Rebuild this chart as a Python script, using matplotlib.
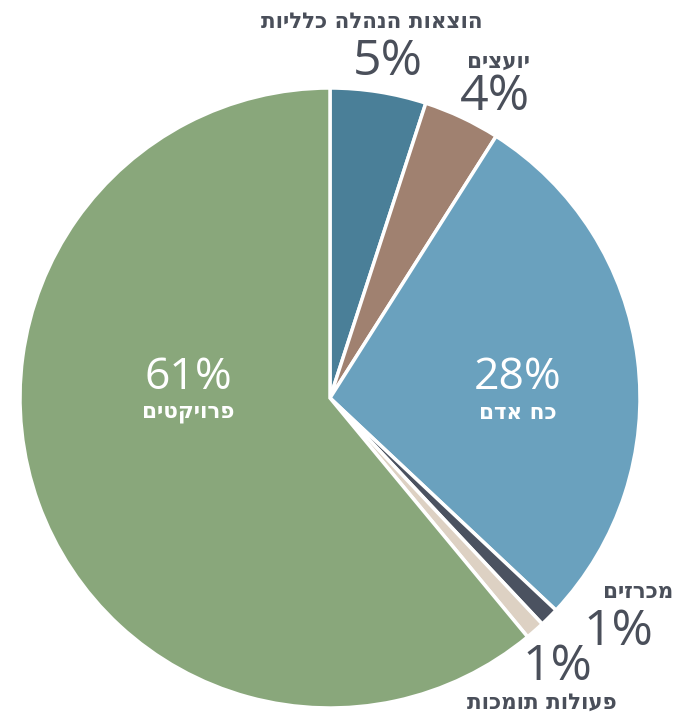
import matplotlib
matplotlib.use("Agg")
import matplotlib.pyplot as plt

labels = ["הוצאות הנהלה כלליות", "יועצים", "כח אדם", "מכרזים", "פעולות תומכות", "פרויקטים"]
values = [5, 4, 28, 1, 1, 61]
pct_text = ["5%", "4%", "28%", "1%", "1%", "61%"]
colors = ["#4a7f98", "#a08170", "#6aa1be", "#4b5260", "#ddd1c3", "#89a77b"]

# where the labels sit (data coords, pie radius = 1)
pct_pos = [(0.187, 1.084), (0.532, 0.971), (0.606, 0.065), (0.929, -0.755), (0.735, -0.868), (-0.458, 0.065)]
name_pos = [(0.135, 1.213), (0.542, 1.084), (0.606, -0.048), (0.994, -0.626), (0.684, -0.984), (-0.458, -0.048)]
inside = [False, False, True, False, False, True]


def rtl(s):
    # matplotlib has no bidi support, so flip Hebrew for display
    return s[::-1]


fig = plt.figure(figsize=(6.79, 7.15), dpi=100)
ax = fig.add_axes([20 / 679, 7 / 715, 620 / 679, 620 / 715])
ax.pie(values, colors=colors, startangle=90, counterclock=False, radius=1,
       wedgeprops=dict(edgecolor="white", linewidth=2.5))
ax.set_xlim(-1, 1)
ax.set_ylim(-1, 1)
ax.set_aspect("equal")
ax.axis("off")

text_dark = "#4a4f5a"
for i in range(len(values)):
    c = "white" if inside[i] else text_dark
    size = 32 if inside[i] else 36
    ax.text(pct_pos[i][0], pct_pos[i][1], pct_text[i], ha="center", va="center",
            fontsize=size, color=c, fontweight="normal",
            family=["Open Sans", "DejaVu Sans"], clip_on=False)
    ax.text(name_pos[i][0], name_pos[i][1], rtl(labels[i]), ha="center", va="center",
            fontsize=15.5, color=c, fontweight="bold",
            family=["DejaVu Sans"], clip_on=False)

plt.savefig("out.png", dpi=100)
